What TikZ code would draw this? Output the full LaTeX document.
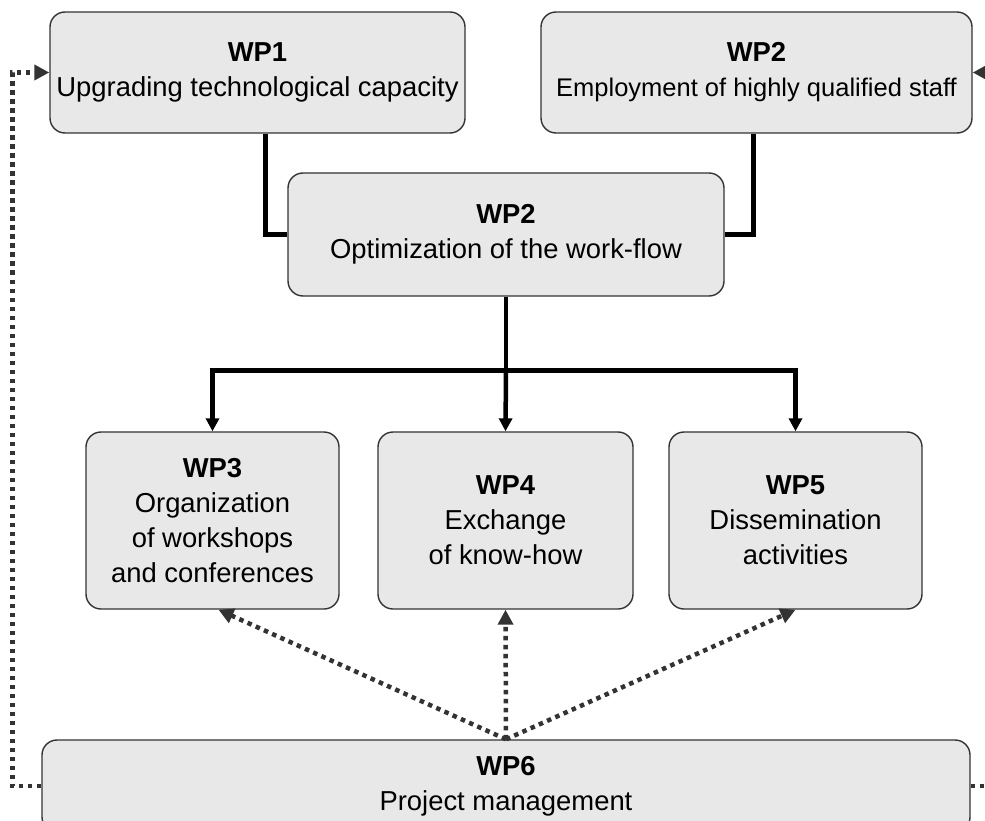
\documentclass[tikz,border=0pt]{standalone}
\usepackage{fontspec}
\setmainfont{Liberation Sans}
\usetikzlibrary{arrows.meta}
\definecolor{boxfill}{HTML}{E8E8E8}
\definecolor{boxline}{HTML}{333333}
\newcommand{\smalltxt}[1]{{\fontsize{25.5}{35}\selectfont #1}}

\begin{document}
\begin{tikzpicture}[x=1pt,y=-1pt,
  wp/.style={draw=boxline,line width=1.4pt,fill=boxfill,rounded corners=15pt,
    align=center,inner sep=0pt,font=\fontsize{27.4}{35}\selectfont},
  link/.style={line width=4.5pt,black},
  down/.style={-{Triangle[length=13pt,width=13pt]}},
  ctrl/.style={line width=4.5pt,boxline,dash pattern=on 4.5pt off 4.5pt,
    -{Triangle[length=15pt,width=15pt]}}]
\useasboundingbox (0,0) rectangle (985,821);
\node[wp,minimum width=415pt,minimum height=121pt] (wp1) at (257.5,72.5)
  {\textbf{WP1}\\Upgrading technological capacity};
\node[wp,minimum width=431pt,minimum height=121pt] (wp2) at (756.5,72.5)
  {\textbf{WP2}\\\smalltxt{Employment of highly qualified staff}};
\node[wp,minimum width=436pt,minimum height=123pt] (wp2m) at (506,234.5)
  {\textbf{WP2}\\Optimization of the work-flow};
\node[wp,minimum width=253pt,minimum height=177pt] (wp3) at (212.5,520.5)
  {\textbf{WP3}\\Organization\\of workshops\\and conferences};
\node[wp,minimum width=255pt,minimum height=177pt] (wp4) at (505.5,520.5)
  {\textbf{WP4}\\Exchange\\of know-how};
\node[wp,minimum width=253pt,minimum height=177pt] (wp5) at (795.5,520.5)
  {\textbf{WP5}\\Dissemination\\activities};
\node[wp,minimum width=928pt,minimum height=92pt] (wp6) at (506,786)
  {\textbf{WP6}\\Project management};

\draw[link] ([xshift=8pt]wp1.south) |- (wp2m.west);
\draw[link] ([xshift=-3pt]wp2.south) |- (wp2m.east);
\draw[link] (wp2m.south) -- ++(0,74) coordinate (fork);
\draw[link,down] (fork) -| (wp3.north);
\draw[link,down] (fork) -- (wp4.north);
\draw[link,down] (fork) -| (wp5.north);

\draw[ctrl] (wp6.north) -- ([xshift=6pt]wp3.south);
\draw[ctrl] (wp6.north) -- (wp4.south);
\draw[ctrl] (wp6.north) -- (wp5.south);
\draw[ctrl] (wp6.west) -- ++(-29,0) |- (wp1.west);
\draw[ctrl] (wp6.east) -- ++(40,0) |- (wp2.east);
\end{tikzpicture}
\end{document}
